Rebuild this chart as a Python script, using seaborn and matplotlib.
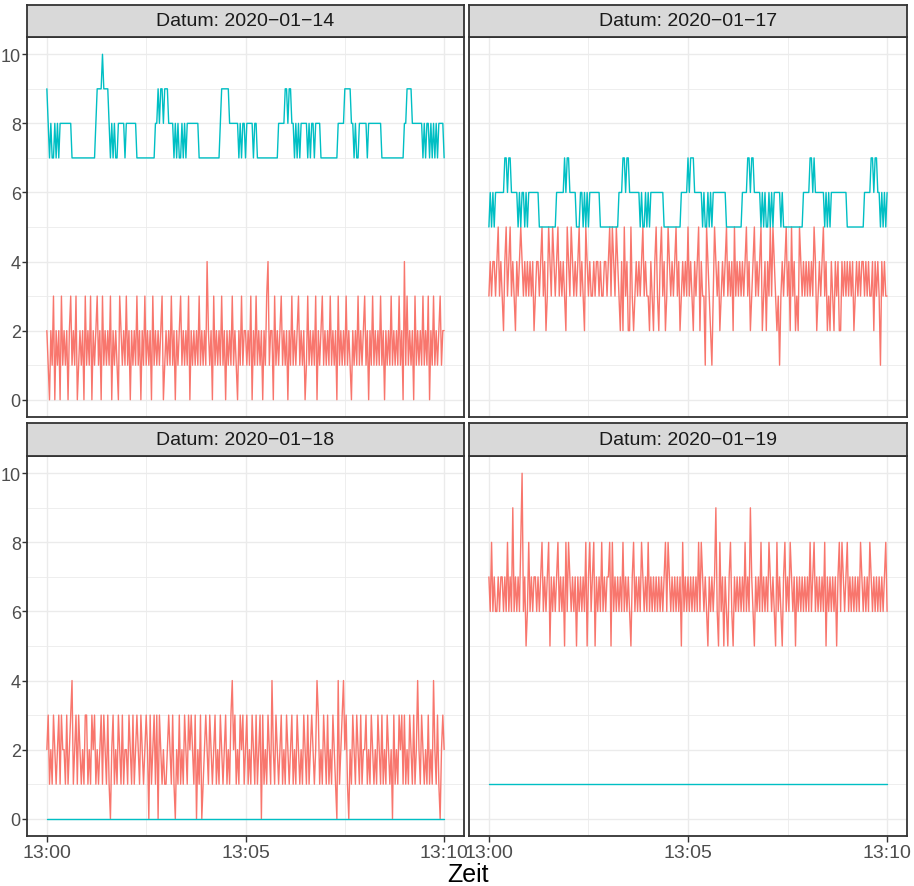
# -*- coding: utf-8 -*-
import pandas as pd
import seaborn as sns
import matplotlib.pyplot as plt
import matplotlib.dates as mdates

sns.set_theme(style="white")
plt.rcParams['font.family'] = ['Liberation Sans', 'DejaVu Sans']

# Facets and groups
datum_labels = ["2020-01-14", "2020-01-17", "2020-01-18", "2020-01-19"]
typ_labels = ["Typ 1", "Typ 2"]
farben = ["#F8766D", "#00BFC4"]

# Values, one hex digit per 2 s step (A = 10),
# each series runs from 13:00 to 13:10
rot_0114 = (
    "2102130212" "0312120231" "2130121203"
    "1213021231" "2031212130" "2121032121"
    "3120212131" "2021312120" "3121212301"
    "2121312021" "2312121302" "1212131212"
    "1421203121" "2131202121" "3121021312"
    "2121302131" "2120213412" "2031212312"
    "1202131212" "3121201312" "1213021231"
    "2121312120" "3121213121" "0212131212"
    "3120213121" "2131202121" "3121213120"
    "4131212031" "2121312130" "2131212312"
    "2"
)
blau_0114 = (
    "9" "87877878788" "8" "888888" "777777777777777777"
    "89999A99998" "7878778" "8888788888888" "77777777777777"
    "88" "98998999" "8888" "7878778787" "888888888" "7777777777777777"
    "8" "999999" "8888888" "7878878" "8888788" "7777777777777777"
    "88888" "99899" "88" "787878" "88887878878888" "7777777777777"
    "88888" "99999" "88" "78778" "8888878888888888" "77777777777777777"
    "88" "9999" "88888888" "78788787878788" "88" "7"
)
rot_0117 = (
    "3434434534" "3245345343" "2434543434"
    "3434234434" "5342354354" "3453434325"
    "4354343453" "4325434334" "3443433443"
    "4535435432" "4253422532" "3434345343"
    "3243245324" "5342354343" "4534234343"
    "5343243452" "4331543213" "5434234345"
    "3434253434" "3434534234" "5343452342"
    "4353543231" "3434534253" "4232543434"
    "3434354234" "3453423243" "2434224343"
    "4343423434" "3443434334" "2434314343"
    "3"
)
blau_0117 = (
    "565656" "666666" "77677" "66666" "565665656" "66666665" "555555555555"
    "666666" "7677" "66666" "5556656565" "66666666" "55555555555555"
    "666" "77677" "66666666" "565565656" "666666666" "5555555555555"
    "66666" "76777" "666666" "56556565" "6666666666" "555555555555"
    "6666" "77677" "66666" "56565565656" "666656" "555555555555555"
    "66666" "7767" "6666666" "565656" "66666666666" "5555555555555"
    "66666" "77677" "66" "565656"
)
rot_0118 = (
    "2312132123" "1322131234" "1231321213"
    "3121323121" "2313213102" "3121321312"
    "2132131232" "1321232031" "2313032121"
    "1232131021" "3121321323" "2130213012"
    "3213212312" "1321231213" "4231213231"
    "2312132131" "2303121321" "4213212312"
    "1321231213" "2121321312" "3212431213"
    "2131213210" "4123423102" "1321321312"
    "2312132121" "3213121321" "2031213231"
    "3121321312" "4213212131" "2142131023"
    "2"
)
blau_0118 = "00"
rot_0119 = (
    "7686766767" "7676867696" "76768A6756"
    "8676776767" "8676785767" "6786767586"
    "8767675767" "6768578678" "5767686767"
    "7858676767" "6867676578" "6767687676"
    "8676767676" "7678687676" "7676758676"
    "7676767686" "8767657676" "7965867576"
    "5786576767" "6768676976" "5767686767"
    "6876765867" "6578676876" "7576767676"
    "7686786767" "6768576767" "6757868767"
    "8676767676" "8767676876" "7676767678"
    "6"
)
blau_0119 = "11"

y_ticks = [0, 2, 4, 6, 8, 10]
y_minor = [1, 3, 5, 7, 9]
x_ticks = ["13:00", "13:05", "13:10"]
x_minor = ["13:02:30", "13:07:30"]

W, H = 914, 887
BASE = "2020-01-01 "


def build_frame():
    series = {
        ("2020-01-14", "Typ 1"): rot_0114, ("2020-01-14", "Typ 2"): blau_0114,
        ("2020-01-17", "Typ 1"): rot_0117, ("2020-01-17", "Typ 2"): blau_0117,
        ("2020-01-18", "Typ 1"): rot_0118, ("2020-01-18", "Typ 2"): blau_0118,
        ("2020-01-19", "Typ 1"): rot_0119, ("2020-01-19", "Typ 2"): blau_0119,
    }
    parts = []
    for (datum, typ), s in series.items():
        werte = [int(c, 16) for c in s]
        zeit = pd.date_range(BASE + "13:00", BASE + "13:10", periods=len(werte))
        parts.append(pd.DataFrame({"Zeit": zeit, "Wert": werte, "Typ": typ, "Datum": datum}))
    return pd.concat(parts, ignore_index=True)


def px_rect(x0, y0, x1, y1):
    return [x0 / W, 1 - y1 / H, (x1 - x0) / W, (y1 - y0) / H]


df = build_frame()

g = sns.relplot(data=df, x="Zeit", y="Wert", hue="Typ", col="Datum", col_wrap=2,
                kind="line", hue_order=typ_labels, col_order=datum_labels,
                palette=farben, estimator=None, legend=False, linewidth=1.0,
                height=4, aspect=1)
fig = g.figure
fig.set_size_inches(W / 100, H / 100)

panels = [(27, 38, 464, 418), (469, 38, 907, 418),
          (27, 457, 464, 837), (469, 457, 907, 837)]
strips = [(27, 6, 464, 38), (469, 6, 907, 38),
          (27, 424, 464, 457), (469, 424, 907, 457)]

for i, (ax, datum) in enumerate(zip(g.axes.flat, datum_labels)):
    ax.set_position(px_rect(*panels[i]))
    ax.set_title("")
    ax.set_xlabel("")
    ax.set_ylabel("")
    ax.set_xlim(pd.Timestamp(BASE + "12:59:30"), pd.Timestamp(BASE + "13:10:30"))
    ax.set_ylim(-0.5, 10.5)
    ax.set_yticks(y_ticks)
    ax.set_yticks(y_minor, minor=True)
    ax.set_xticks([pd.Timestamp(BASE + t) for t in x_ticks])
    ax.set_xticks([pd.Timestamp(BASE + t) for t in x_minor], minor=True)
    ax.xaxis.set_major_formatter(mdates.DateFormatter("%H:%M"))
    ax.set_yticklabels([str(v) for v in y_ticks])

    ax.grid(which="major", color="#EBEBEB", linewidth=1.0)
    ax.grid(which="minor", color="#EBEBEB", linewidth=0.6)
    ax.set_axisbelow(True)
    for sp in ax.spines.values():
        sp.set_visible(True)
        sp.set_color("#333333")
        sp.set_linewidth(1.3)

    left_col = i % 2 == 0
    bottom_row = i >= 2
    ax.tick_params(which="minor", length=0)
    ax.tick_params(axis="y", which="major", left=left_col, labelleft=left_col,
                   length=3.5, width=1, color="#333333", labelsize=13,
                   labelcolor="#4D4D4D", pad=1)
    ax.tick_params(axis="x", which="major", bottom=bottom_row, labelbottom=bottom_row,
                   length=4, width=1, color="#333333", labelsize=14,
                   labelcolor="#4D4D4D", pad=2)

    # ggplot-like facet strip
    sax = fig.add_axes(px_rect(*strips[i]))
    sax.set_facecolor("#D9D9D9")
    sax.set_xticks([])
    sax.set_yticks([])
    for sp in sax.spines.values():
        sp.set_visible(True)
        sp.set_color("#333333")
        sp.set_linewidth(1.3)
    sax.text(0.5, 0.5, "Datum: " + datum.replace("-", "\u2212"), ha="center", va="center",
             fontsize=14, color="#1A1A1A", transform=sax.transAxes)

fig.text(468 / W, 1 - 875 / H, "Zeit", ha="center", va="center", fontsize=18, color="black")

fig.savefig("out.png", dpi=100)
